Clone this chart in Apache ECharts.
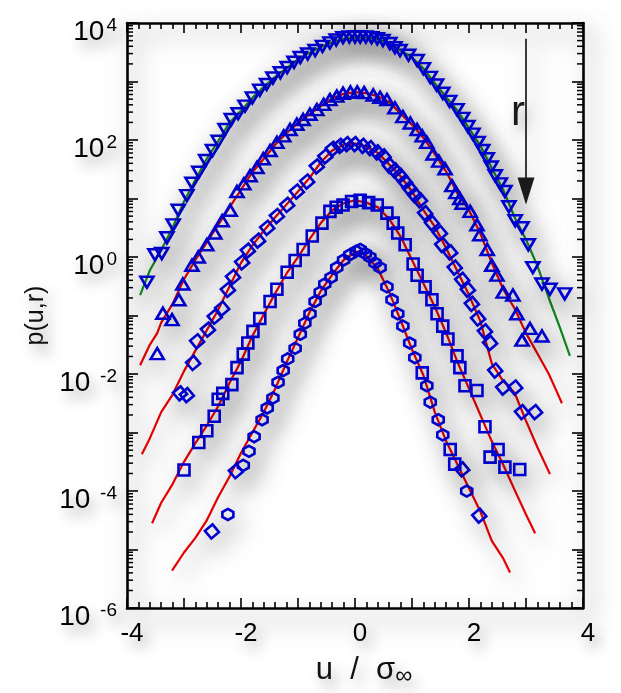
<!DOCTYPE html>
<html>
<head>
<meta charset="utf-8">
<script src="https://cdn.jsdelivr.net/npm/echarts@6/dist/echarts.min.js"></script>
<style>
html, body { margin: 0; padding: 0; background: #fff; }
#chart { width: 621px; height: 693px; }
</style>
</head>
<body>
<div id="chart"></div>
<script>
// all y values are log10 p(u,r); x is u / sigma_inf
var line1 = [[-3.77,-0.65],[-3.6,-0.23],[-3.4,0.12],[-3.2,0.5],[-3.0,0.95],[-2.8,1.32],[-2.6,1.68],[-2.4,1.98],[-2.2,2.3],[-2.0,2.5],[-1.8,2.72],[-1.6,2.91],[-1.4,3.08],[-1.2,3.23],[-1.0,3.38],[-0.8,3.49],[-0.6,3.59],[-0.4,3.67],[-0.2,3.73],[0,3.75],[0.2,3.75],[0.4,3.72],[0.6,3.65],[0.8,3.53],[1.0,3.41],[1.2,3.22],[1.4,2.97],[1.6,2.73],[1.8,2.5],[2.0,2.2],[2.2,1.9],[2.4,1.52],[2.6,1.15],[2.8,0.68],[3.0,0.3],[3.2,-0.15],[3.4,-0.7],[3.6,-1.22],[3.77,-1.69]];
var line2 = [[-3.77,-1.85],[-3.6,-1.5],[-3.47,-1.3],[-3.4,-1.12],[-3.2,-0.8],[-3.0,-0.38],[-2.8,-0.05],[-2.6,0.25],[-2.4,0.55],[-2.2,0.85],[-2.0,1.15],[-1.8,1.45],[-1.6,1.68],[-1.4,1.92],[-1.2,2.12],[-1.0,2.29],[-0.8,2.44],[-0.6,2.58],[-0.4,2.71],[-0.2,2.79],[0,2.82],[0.2,2.8],[0.4,2.75],[0.6,2.65],[0.8,2.45],[1.0,2.26],[1.2,2.04],[1.4,1.76],[1.6,1.46],[1.8,1.08],[2.0,0.8],[2.2,0.4],[2.4,-0.1],[2.6,-0.55],[2.8,-0.88],[3.0,-1.3],[3.2,-1.65],[3.4,-2.0],[3.54,-2.3],[3.63,-2.5]];
var line3 = [[-3.74,-3.37],[-3.6,-3.1],[-3.4,-2.65],[-3.2,-2.35],[-3.0,-1.95],[-2.8,-1.6],[-2.6,-1.25],[-2.4,-0.9],[-2.2,-0.5],[-2.0,-0.1],[-1.8,0.2],[-1.6,0.45],[-1.4,0.68],[-1.2,0.9],[-1.0,1.12],[-0.8,1.35],[-0.6,1.62],[-0.4,1.82],[-0.2,1.92],[0,1.94],[0.2,1.89],[0.4,1.78],[0.6,1.58],[0.8,1.38],[1.0,1.12],[1.2,0.8],[1.4,0.52],[1.6,0.15],[1.8,-0.25],[2.0,-0.65],[2.2,-1.1],[2.4,-1.82],[2.6,-2.12],[2.8,-2.32],[3.0,-2.8],[3.2,-3.25],[3.42,-3.71]];
var line4 = [[-3.56,-4.55],[-3.4,-4.2],[-3.2,-3.88],[-3.0,-3.5],[-2.8,-3.18],[-2.6,-2.88],[-2.4,-2.55],[-2.2,-2.15],[-2.0,-1.78],[-1.8,-1.35],[-1.6,-0.98],[-1.4,-0.62],[-1.2,-0.28],[-1.0,0.0],[-0.8,0.3],[-0.6,0.58],[-0.4,0.8],[-0.2,0.92],[0,0.97],[0.2,0.93],[0.4,0.85],[0.6,0.65],[0.8,0.35],[1.0,-0.05],[1.2,-0.45],[1.4,-0.85],[1.6,-1.3],[1.8,-1.8],[2.0,-2.25],[2.2,-2.7],[2.4,-3.15],[2.6,-3.55],[2.8,-3.98],[3.0,-4.4],[3.16,-4.72]];
var line5 = [[-3.21,-5.36],[-3.0,-5.05],[-2.8,-4.8],[-2.6,-4.5],[-2.4,-4.1],[-2.2,-3.75],[-2.0,-3.35],[-1.8,-3.0],[-1.6,-2.65],[-1.4,-2.25],[-1.2,-1.8],[-1.0,-1.38],[-0.8,-0.95],[-0.6,-0.58],[-0.4,-0.3],[-0.2,-0.05],[0,0.08],[0.1,0.1],[0.2,0.02],[0.4,-0.2],[0.6,-0.6],[0.8,-1.08],[1.0,-1.58],[1.2,-2.02],[1.4,-2.65],[1.6,-3.15],[1.8,-3.55],[2.0,-3.95],[2.2,-4.35],[2.4,-4.85],[2.6,-5.15],[2.72,-5.39]];

var pts1 = [[-3.65,-0.43],[-3.51,0.04],[-3.39,0.06],[-3.30,0.33],[-3.19,0.55],[-3.10,0.80],[-2.95,1.05],[-2.86,1.26],[-2.74,1.45],[-2.62,1.65],[-2.50,1.82],[-2.40,1.98],[-2.28,2.18],[-2.17,2.35],[-2.05,2.45],[-1.93,2.58],[-1.80,2.72],[-1.67,2.85],[-1.55,2.95],[-1.44,3.06],[-1.31,3.15],[-1.19,3.24],[-1.07,3.33],[-0.96,3.41],[-0.83,3.47],[-0.70,3.53],[-0.57,3.60],[-0.44,3.66],[-0.33,3.71],[-0.21,3.75],[-0.10,3.76],[0.0,3.76],[0.09,3.76],[0.19,3.76],[0.29,3.75],[0.39,3.73],[0.49,3.70],[0.61,3.65],[0.70,3.58],[0.79,3.53],[0.94,3.45],[1.09,3.36],[1.20,3.22],[1.32,3.07],[1.43,2.94],[1.54,2.80],[1.66,2.66],[1.79,2.52],[1.89,2.37],[1.98,2.23],[2.07,2.10],[2.16,1.96],[2.24,1.82],[2.32,1.68],[2.39,1.54],[2.46,1.39],[2.55,1.25],[2.63,1.12],[2.70,0.86],[2.81,0.62],[2.93,0.50],[3.04,0.21],[3.12,-0.18],[3.28,-0.46],[3.42,-0.55],[3.68,-0.63]];
var pts2 = [[-3.47,-1.65],[-3.37,-0.96],[-3.21,-1.07],[-3.09,-0.73],[-3.02,-0.46],[-2.86,-0.14],[-2.75,0.0],[-2.60,0.21],[-2.46,0.41],[-2.33,0.62],[-2.19,0.80],[-2.07,1.12],[-1.95,1.25],[-1.84,1.39],[-1.72,1.53],[-1.61,1.68],[-1.49,1.82],[-1.37,1.96],[-1.25,2.07],[-1.14,2.18],[-1.02,2.27],[-0.91,2.35],[-0.79,2.44],[-0.67,2.52],[-0.55,2.61],[-0.44,2.69],[-0.32,2.75],[-0.21,2.80],[-0.08,2.82],[0.04,2.82],[0.16,2.81],[0.32,2.77],[0.44,2.73],[0.56,2.69],[0.70,2.55],[0.84,2.40],[0.97,2.29],[1.09,2.18],[1.18,2.07],[1.26,1.96],[1.37,1.76],[1.47,1.64],[1.58,1.51],[1.70,1.22],[1.77,1.10],[1.84,1.00],[1.88,0.92],[2.02,0.78],[2.14,0.55],[2.19,0.38],[2.32,0.13],[2.40,-0.14],[2.49,-0.31],[2.60,-0.60],[2.77,-0.65],[2.84,-0.97],[2.93,-1.42],[3.07,-1.22],[3.28,-1.35]];
var pts3 = [[-3.07,-2.33],[-2.95,-2.36],[-2.84,-1.81],[-2.77,-1.44],[-2.58,-1.24],[-2.46,-1.02],[-2.33,-0.88],[-2.23,-0.56],[-2.14,-0.34],[-1.98,-0.09],[-1.88,0.11],[-1.70,0.28],[-1.54,0.50],[-1.37,0.70],[-1.19,0.89],[-1.02,1.12],[-0.84,1.29],[-0.67,1.55],[-0.52,1.72],[-0.39,1.85],[-0.26,1.90],[-0.14,1.93],[0.0,1.93],[0.14,1.90],[0.27,1.86],[0.39,1.79],[0.50,1.72],[0.61,1.56],[0.70,1.48],[0.79,1.39],[0.88,1.28],[0.96,1.17],[1.05,1.06],[1.14,0.97],[1.23,0.75],[1.35,0.58],[1.49,0.41],[1.53,0.21],[1.67,0.08],[1.75,-0.18],[1.88,-0.39],[1.98,-0.56],[2.05,-0.80],[2.16,-1.05],[2.28,-1.27],[2.37,-1.47],[2.46,-1.94],[2.60,-2.23],[2.81,-2.23],[2.93,-2.65],[3.16,-2.65]];
var pts4 = [[-3.00,-3.64],[-2.74,-3.17],[-2.60,-2.97],[-2.47,-2.72],[-2.40,-2.43],[-2.32,-2.33],[-2.16,-2.18],[-2.07,-1.89],[-1.96,-1.66],[-1.88,-1.47],[-1.79,-1.27],[-1.67,-1.05],[-1.49,-0.76],[-1.37,-0.55],[-1.19,-0.26],[-1.05,-0.06],[-0.91,0.13],[-0.75,0.36],[-0.58,0.58],[-0.44,0.78],[-0.33,0.85],[-0.21,0.89],[-0.06,0.95],[0.09,0.97],[0.24,0.93],[0.39,0.89],[0.56,0.75],[0.67,0.58],[0.75,0.41],[0.88,0.21],[1.02,-0.12],[1.09,-0.31],[1.23,-0.51],[1.35,-0.73],[1.44,-0.97],[1.54,-1.18],[1.63,-1.40],[1.79,-1.69],[1.84,-1.89],[1.93,-2.20],[2.14,-2.28],[2.28,-2.90],[2.37,-3.42],[2.51,-3.29],[2.63,-3.59],[2.89,-3.63]];
var pts5 = [[-2.23,-4.40],[-1.96,-3.56],[-1.86,-3.32],[-1.77,-3.07],[-1.63,-2.78],[-1.54,-2.58],[-1.44,-2.41],[-1.35,-2.14],[-1.26,-1.94],[-1.18,-1.74],[-1.05,-1.56],[-0.96,-1.32],[-0.88,-1.13],[-0.79,-0.97],[-0.70,-0.76],[-0.61,-0.60],[-0.53,-0.46],[-0.42,-0.35],[-0.32,-0.18],[-0.20,-0.05],[-0.09,0.04],[0.02,0.10],[0.09,0.13],[0.18,0.06],[0.26,0.0],[0.35,-0.10],[0.44,-0.18],[0.56,-0.51],[0.65,-0.73],[0.75,-0.97],[0.84,-1.18],[0.96,-1.47],[1.05,-1.72],[1.26,-2.20],[1.32,-2.48],[1.46,-2.78],[1.54,-3.04],[1.96,-4.00]];
var pts5diamond = [[-2.51,-4.69],[-2.09,-3.66],[1.88,-3.63],[2.18,-4.42]];
var pts5square = [[1.18,-1.98],[1.67,-3.29],[1.75,-3.54]];

var arrowFrom = [3.0, 3.73], arrowTo = [3.0, 1.13];
var rLabelAt = [2.86, 2.45];

var xTicks = [-4, -2, 0, 2, 4];
var yTicks = [-6, -4, -2, 0, 2, 4];

var BLUE = '#0000d2', RED = '#e60000', GREEN = '#14891e';
var FONT = 'Liberation Sans, Arial, Helvetica, sans-serif';
var SH = { shadowColor: 'rgba(0,0,0,0.6)', shadowBlur: 24, shadowOffsetX: 7, shadowOffsetY: 10 };
var TSH = { textShadowColor: 'rgba(0,0,0,0.4)', textShadowBlur: 14, textShadowOffsetX: 5, textShadowOffsetY: 8 };

// minor log ticks (2..9 in each decade), drawn on both y sides
var minorLogTicks = [];
for (var d = -6; d < 4; d++) {
    for (var k = 2; k < 10; k++) minorLogTicks.push([0, d + Math.log10(k)]);
}

var chart = echarts.init(document.getElementById('chart'));

function lineSeries(data, color) {
    return {
        type: 'line', data: data, symbol: 'none', z: 2,
        lineStyle: Object.assign({ color: color, width: 2.2 }, SH)
    };
}
function markerSeries(data, symbol, size, rotate) {
    return {
        type: 'scatter', data: data, symbol: symbol, symbolSize: size, symbolRotate: rotate || 0, z: 3,
        itemStyle: Object.assign({ color: 'rgba(0,0,0,0)', borderColor: BLUE, borderWidth: 2.6, opacity: 1 }, SH)
    };
}

var axisLine = { show: true, onZero: false, lineStyle: Object.assign({ color: '#000', width: 2.6 }, SH) };

var option = {
    animation: false,
    backgroundColor: '#fff',
    grid: { left: 127, right: 38, top: 22, bottom: 77 },
    xAxis: [{
        type: 'value', min: -4, max: 4, interval: 1, position: 'bottom',
        axisLine: axisLine,
        axisTick: { inside: true, length: 10, lineStyle: { color: '#000', width: 1.6 } },
        minorTick: { show: true, splitNumber: 5, length: 6, lineStyle: { color: '#000', width: 1.6 } },
        splitLine: { show: false },
        axisLabel: {
            margin: 13, fontSize: 26, color: '#000', fontFamily: FONT, padding: [0, 0, 0, 10],
            textShadowColor: TSH.textShadowColor, textShadowBlur: TSH.textShadowBlur,
            textShadowOffsetX: TSH.textShadowOffsetX, textShadowOffsetY: TSH.textShadowOffsetY,
            formatter: function (v) { return xTicks.indexOf(v) >= 0 ? String(v) : ''; }
        },
        name: '{a|u  /  σ}{s|∞}', nameLocation: 'middle', nameGap: 40,
        nameTextStyle: {
            padding: [0, 0, 0, 18],
            rich: {
                a: Object.assign({ fontSize: 31, fontFamily: FONT, color: '#111', lineHeight: 36 }, TSH),
                s: Object.assign({ fontSize: 24, fontFamily: FONT, color: '#111', padding: [12, 0, 0, 0], lineHeight: 36 }, TSH)
            }
        }
    }, {
        type: 'value', min: -4, max: 4, interval: 1, position: 'top',
        axisLine: axisLine,
        axisTick: { inside: true, length: 10, lineStyle: { color: '#000', width: 1.6 } },
        minorTick: { show: true, splitNumber: 5, length: 6, lineStyle: { color: '#000', width: 1.6 } },
        splitLine: { show: false }, axisLabel: { show: false }
    }],
    yAxis: [{
        type: 'value', min: -6, max: 4, interval: 1, position: 'left',
        axisLine: axisLine,
        axisTick: { inside: true, length: 11, lineStyle: { color: '#000', width: 1.6 } },
        splitLine: { show: false },
        axisLabel: {
            margin: 10, color: '#000',
            formatter: function (v) {
                if (yTicks.indexOf(v) < 0) return '';
                return v < 0 ? '{b|10 }{s|' + v + '}' : '{b|10}{s|' + v + '}';
            },
            rich: {
                b: Object.assign({ fontSize: 28, fontFamily: FONT, color: '#000', lineHeight: 28, padding: [18, 0, 0, 0] }, TSH),
                s: Object.assign({ fontSize: 19, fontFamily: FONT, color: '#000', lineHeight: 19, verticalAlign: 'top', padding: [7, 0, 0, 2] }, TSH)
            }
        },
        name: 'p(u,r)', nameLocation: 'middle', nameGap: 74, nameRotate: 90,
        nameTextStyle: Object.assign({ fontSize: 25, fontFamily: FONT, color: '#111' }, TSH)
    }, {
        type: 'value', min: -6, max: 4, interval: 1, position: 'right',
        axisLine: axisLine,
        axisTick: { inside: true, length: 11, lineStyle: { color: '#000', width: 1.6 } },
        splitLine: { show: false }, axisLabel: { show: false }
    }],
    series: [
        {
            type: 'custom', data: minorLogTicks, silent: true, z: 10, clip: false,
            renderItem: function (params, api) {
                var v = api.value(1);
                var l = api.coord([-4, v]), r = api.coord([4, v]);
                var st = { stroke: '#000', lineWidth: 1.5 };
                return {
                    type: 'group', children: [
                        { type: 'line', shape: { x1: l[0], y1: l[1], x2: l[0] + 6, y2: l[1] }, style: st },
                        { type: 'line', shape: { x1: r[0], y1: r[1], x2: r[0] - 6, y2: r[1] }, style: st }
                    ]
                };
            }
        },
        lineSeries(line1, GREEN),
        lineSeries(line2, RED),
        lineSeries(line3, RED),
        lineSeries(line4, RED),
        lineSeries(line5, RED),
        markerSeries(pts1, 'triangle', [13, 11], 180),
        markerSeries(pts2, 'triangle', [13, 11], 0),
        markerSeries(pts3, 'rect', 10, 40),
        markerSeries(pts4, 'rect', 11, 0),
        markerSeries(pts5, 'path://M5,0 L9.5,2.8 L9.5,7.2 L5,10 L0.5,7.2 L0.5,2.8 Z', 11, 0),
        markerSeries(pts5diamond, 'rect', 10, 40),
        markerSeries(pts5square, 'rect', 11, 0),
        {
            type: 'scatter', data: [rLabelAt], symbolSize: 0, z: 5,
            itemStyle: { opacity: 1 },
            label: Object.assign({ show: true, formatter: 'r', position: 'inside', fontSize: 42, fontFamily: FONT, color: '#1a1a1a', opacity: 1 }, TSH),
            markLine: {
                silent: true, symbol: ['none', 'triangle'], symbolSize: [17, 27],
                lineStyle: Object.assign({ color: '#1a1a1a', width: 1.7, type: 'solid' }, SH),
                itemStyle: { color: '#1a1a1a' },
                label: { show: false },
                data: [[{ coord: arrowFrom }, { coord: arrowTo }]]
            }
        }
    ]
};
chart.setOption(option);
</script>
</body>
</html>
